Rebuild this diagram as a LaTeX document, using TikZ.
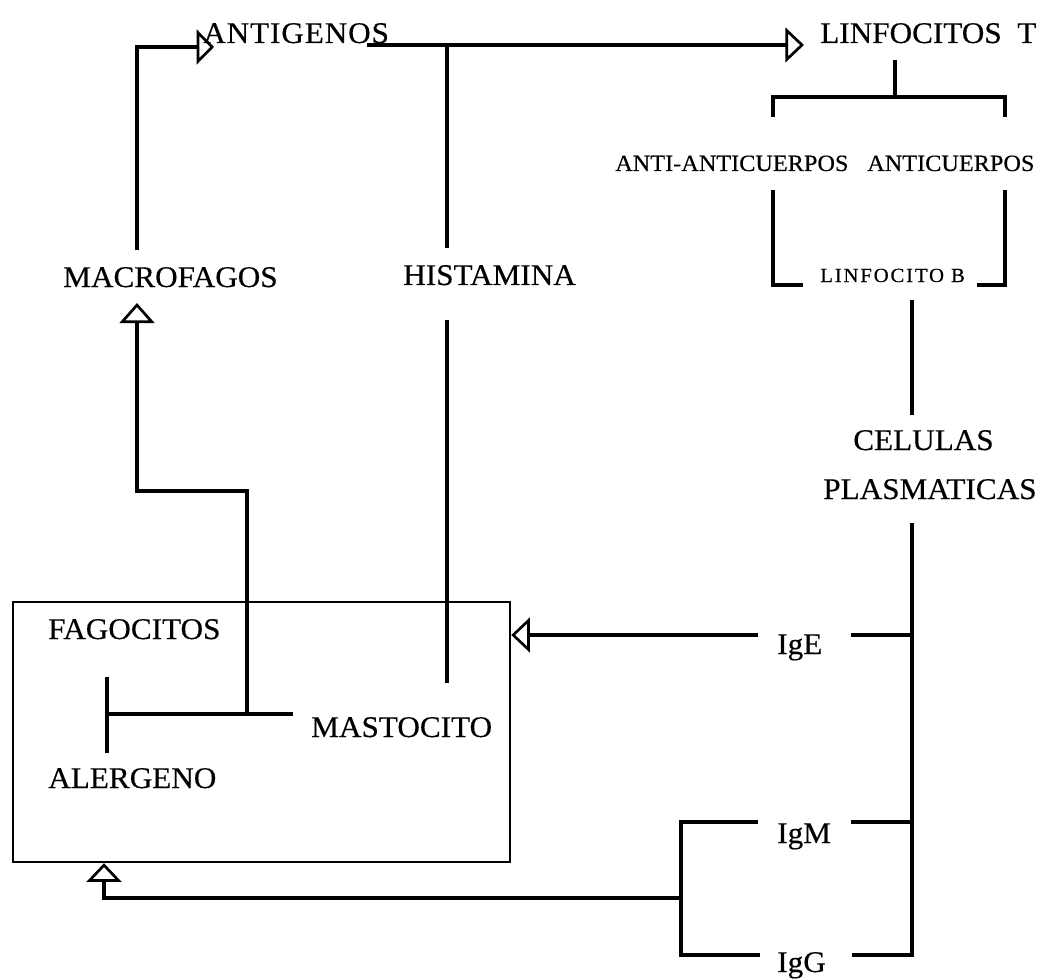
\documentclass[tikz,border=0pt]{standalone}
\usepackage{fontspec}
\setmainfont{Liberation Serif}[FakeStretch=1.04,FakeBold=0.4]
\usetikzlibrary{arrows.meta}
\begin{document}
\begin{tikzpicture}[x=0.75pt,y=-0.75pt,
  lbl/.style={inner sep=0pt,anchor=base west,font=\fontsize{22.5}{27}\selectfont},
  smalllbl/.style={inner sep=0pt,anchor=base west,font=\fontsize{17.5}{21}\selectfont},
  tinylbl/.style={inner sep=0pt,anchor=base west,font=\fontsize{15}{18}\selectfont\addfontfeature{LetterSpace=9}},
  wire/.style={line width=3pt,line join=miter,line cap=butt},
  arr/.style={wire,-{Triangle[open,length=#1,width=26pt,line width=2pt]}},
  arr/.default=14pt,
  boxline/.style={line width=1.8pt}]
\useasboundingbox (0,0) rectangle (1048,980);

% labels
\node[lbl] (antig) at (203,43) {\addfontfeature{LetterSpace=3}ANTIGENOS};
\node[lbl] (linfT) at (820,43) {LINFOCITOS\ \ T};
\node[smalllbl] (aac) at (615,171) {ANTI-ANTICUERPOS};
\node[smalllbl] (ac) at (867,171) {ANTICUERPOS};
\node[tinylbl] (linfB) at (820,282) {LINFOCITO B};
\node[lbl] (macro) at (63,287) {MACROFAGOS};
\node[lbl] (hist) at (403,285) {HISTAMINA};
\node[lbl] (cel) at (853,450) {CELULAS};
\node[lbl] (plas) at (823,499) {PLASMATICAS};
\node[lbl] (fago) at (48,639) {FAGOCITOS};
\node[lbl] (masto) at (311,737) {MASTOCITO};
\node[lbl] (alerg) at (48,788) {ALERGENO};
\node[lbl] (ige) at (777,654) {IgE};
\node[lbl] (igm) at (777,843) {IgM};
\node[lbl] (igg) at (777,972) {IgG};

% container box
\node[draw,boxline,minimum width=372.75pt,minimum height=195pt,inner sep=0pt] (box) at (261.5,732) {};

% coordinates
\coordinate (macTop) at (137,250);
\coordinate (macC) at (137,47);
\coordinate (antTip) at (214,47);
\coordinate (antEnd) at (367,45);
\coordinate (linfTip) at (804,45);
\coordinate (histA) at (447,45);
\coordinate (histTop) at (447,248);
\coordinate (histBot) at (447,320);
\coordinate (mastTop) at (447,683);
\coordinate (tV) at (247,714);
\coordinate (tStep) at (247,491);
\coordinate (mStep) at (137,491);
\coordinate (macTip) at (137,303);
\coordinate (tTop) at (107,677);
\coordinate (tBot) at (107,753);
\coordinate (tMid) at (107,714);
\coordinate (tEnd) at (293,714);
\coordinate (lt1) at (895,60);
\coordinate (lt2) at (895,97);
\coordinate (brL) at (773,97);
\coordinate (brR) at (1005,97);
\coordinate (brLd) at (773,117);
\coordinate (brRd) at (1005,117);
\coordinate (bbL) at (773,190);
\coordinate (bbLc) at (773,285);
\coordinate (bbLe) at (803,285);
\coordinate (bbR) at (1005,190);
\coordinate (bbRc) at (1005,285);
\coordinate (bbRe) at (977,285);
\coordinate (lb1) at (912,300);
\coordinate (lb2) at (912,415);
\coordinate (pl1) at (912,523);
\coordinate (pl2) at (912,955);
\coordinate (ggR) at (852,955);
\coordinate (eR1) at (851,635);
\coordinate (eR2) at (912,635);
\coordinate (mR1) at (851,822);
\coordinate (mR2) at (912,822);
\coordinate (eL) at (758,635);
\coordinate (mL) at (758,822);
\coordinate (mC) at (681,822);
\coordinate (gC) at (681,955);
\coordinate (gL) at (760,955);
\coordinate (bj) at (681,898);
\coordinate (bc) at (104,898);

% connectors
\draw[arr=13pt] (macTop) -- (macC) -- (antTip);
\draw[arr=14pt] (antEnd) -- (linfTip);
\draw[wire] (histA) -- (histTop);
\draw[wire] (histBot) -- (mastTop);
\draw[arr=15pt] (tV) -- (tStep) -- (mStep) -- (macTip);
\draw[wire] (tTop) -- (tBot);
\draw[wire] (tMid) -- (tEnd);
\draw[wire] (lt1) -- (lt2);
\draw[wire] (brLd) -- (brL) -- (brR) -- (brRd);
\draw[wire] (bbL) -- (bbLc) -- (bbLe);
\draw[wire] (bbR) -- (bbRc) -- (bbRe);
\draw[wire] (lb1) -- (lb2);
\draw[wire] (pl1) -- (pl2) -- (ggR);
\draw[wire] (eR1) -- (eR2);
\draw[wire] (mR1) -- (mR2);
\draw[arr=14pt] (eL) -- (box.east |- eL);
\draw[wire] (mL) -- (mC) -- (gC) -- (gL);
\draw[arr=14pt] (bj) -- (bc) -- (box.south -| bc);
\end{tikzpicture}
\end{document}
